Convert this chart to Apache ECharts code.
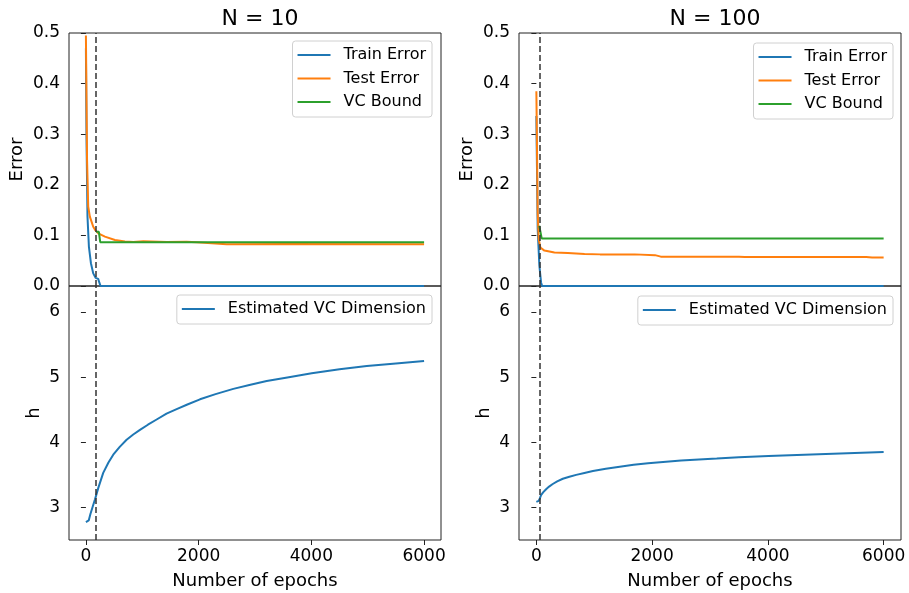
<!DOCTYPE html>
<html>
<head>
<meta charset="utf-8">
<script src="https://cdn.jsdelivr.net/npm/echarts@6/dist/echarts.min.js"></script>
<style>html,body{margin:0;padding:0;background:#fff}#c{width:909px;height:593px}</style>
</head>
<body>
<div id="c"></div>
<script>
// ---- data ----
const titles = ['N = 10', 'N = 100'];
const stopEpochs = [180, 50];
const xTicks = [0, 2000, 4000, 6000];
const hTicks = [3, 4, 5, 6];

const trainX10 = [0, 10, 28, 53, 89, 130, 172, 218, 240, 260, 6000];
const trainY10 = [0.47, 0.3, 0.137, 0.078, 0.045, 0.025, 0.016, 0.014, 0.006, 0, 0];
const testX10 = [0, 20, 41, 70, 130, 170, 220, 337, 515, 692, 840, 1018, 1432, 1787, 1965, 2497, 3600, 6000];
const testY10 = [0.495, 0.25, 0.157, 0.137, 0.117, 0.11, 0.104, 0.0975, 0.091, 0.088, 0.087, 0.0885, 0.087, 0.0875, 0.0865, 0.0825, 0.083, 0.0825];
const vcX10 = [180, 230, 254, 6000];
const vcY10 = [0.107, 0.107, 0.0865, 0.0865];
const hX10 = [0, 23, 50, 80, 120, 160, 220, 307, 400, 485, 600, 722, 840, 959, 1100, 1255, 1430, 1610, 1800, 2024, 2300, 2615, 2900, 3207, 3600, 4006, 4500, 4983, 5500, 6000];
const hY10 = [2.775, 2.755, 2.8, 2.9, 3.01, 3.12, 3.3, 3.53, 3.69, 3.81, 3.93, 4.04, 4.12, 4.19, 4.27, 4.35, 4.44, 4.51, 4.58, 4.66, 4.74, 4.82, 4.88, 4.94, 5.0, 5.06, 5.12, 5.17, 5.21, 5.25];

const trainX100 = [0, 23, 52, 81, 100, 6000];
const trainY100 = [0.336, 0.112, 0.04, 0.007, 0, 0];
const testX100 = [0, 23, 40, 69, 139, 312, 543, 832, 1100, 1700, 2050, 2150, 3500, 3600, 5700, 5800, 6000];
const testY100 = [0.385, 0.145, 0.093, 0.076, 0.07, 0.066, 0.065, 0.063, 0.0625, 0.0625, 0.061, 0.058, 0.058, 0.0575, 0.0575, 0.0565, 0.0565];
const vcX100 = [50, 92, 6000];
const vcY100 = [0.119, 0.094, 0.094];
const hX100 = [0, 40, 60, 81, 120, 168, 220, 283, 360, 457, 570, 688, 830, 977, 1200, 1440, 1680, 1930, 2500, 3116, 3500, 4011, 5000, 6000];
const hY100 = [3.086, 3.10, 3.14, 3.19, 3.235, 3.28, 3.32, 3.36, 3.40, 3.44, 3.47, 3.50, 3.53, 3.56, 3.595, 3.625, 3.655, 3.68, 3.72, 3.75, 3.77, 3.79, 3.82, 3.85];

// ---- chart ----
const FONT = 'DejaVu Sans';
const BLUE = '#1f77b4', ORANGE = '#ff7f0e', GREEN = '#2ca02c';
const zip = (xs, ys) => xs.map((x, i) => [x, ys[i]]);

const grids = [
  {left: 69, top: 33, width: 372, height: 253},
  {left: 69, top: 286, width: 372, height: 254},
  {left: 519, top: 33, width: 382, height: 253},
  {left: 519, top: 286, width: 382, height: 254}
].map(g => Object.assign(g, {show: true, borderColor: '#222', borderWidth: 1, backgroundColor: 'transparent'}));

function xAxis(gi, bottom) {
  return {
    type: 'value', gridIndex: gi, min: -300, max: 6300,
    splitLine: {show: false},
    axisLine: {show: false},
    axisTick: {show: bottom, customValues: xTicks, length: 5, lineStyle: {color: '#222'}},
    axisLabel: {show: bottom, customValues: xTicks, margin: 8, color: '#000', fontFamily: FONT, fontSize: 17, formatter: v => String(v)},
    name: bottom ? 'Number of epochs' : '', nameLocation: 'middle', nameGap: 32,
    nameTextStyle: {color: '#000', fontFamily: FONT, fontSize: 18}
  };
}
function yAxisTop(gi) {
  return {
    type: 'value', gridIndex: gi, min: 0, max: 0.5, interval: 0.1,
    splitLine: {show: false}, axisLine: {show: false},
    axisTick: {show: true, length: 5, lineStyle: {color: '#222'}},
    axisLabel: {margin: 9, color: '#000', fontFamily: FONT, fontSize: 17, formatter: v => v.toFixed(1)},
    name: 'Error', nameLocation: 'middle', nameGap: 43,
    nameTextStyle: {color: '#000', fontFamily: FONT, fontSize: 18}
  };
}
function yAxisBottom(gi) {
  return {
    type: 'value', gridIndex: gi, min: 2.5, max: 6.4,
    splitLine: {show: false}, axisLine: {show: false},
    axisTick: {show: true, customValues: hTicks, length: 5, lineStyle: {color: '#222'}},
    axisLabel: {customValues: hTicks, margin: 9, color: '#000', fontFamily: FONT, fontSize: 17, formatter: v => String(v)},
    name: 'h', nameLocation: 'middle', nameGap: 26,
    nameTextStyle: {color: '#000', fontFamily: FONT, fontSize: 18}
  };
}
function stopLine(ep) {
  return {
    silent: true, symbol: ['none', 'none'], label: {show: false},
    lineStyle: {color: '#333', type: [6, 3], width: 1.5},
    emphasis: {disabled: true},
    data: [{xAxis: ep}]
  };
}
function line(name, gi, data, color, extra) {
  return Object.assign({
    type: 'line', name, xAxisIndex: gi, yAxisIndex: gi, data,
    symbol: 'none', lineStyle: {color, width: 2}, itemStyle: {color},
    z: 3
  }, extra || {});
}

const legendText = {color: '#000', fontFamily: FONT, fontSize: 16, padding: [0, 0, 0, 8]};
function legend(names, right, top) {
  return {
    data: names.map(n => ({name: n, icon: 'rect'})), orient: 'vertical', right, top,
    itemWidth: 33, itemHeight: 2, itemGap: 7.5,
    padding: [6, 6, 7, 5],
    backgroundColor: '#fff', borderColor: '#d0d0d0', borderWidth: 1, borderRadius: 3,
    textStyle: legendText, selectedMode: false
  };
}

const option = {
  animation: false,
  backgroundColor: '#fff',
  title: [
    {text: titles[0], left: 255, top: 3, textAlign: 'center', textStyle: {fontFamily: FONT, fontSize: 22, fontWeight: 'normal', color: '#000'}},
    {text: titles[1], left: 710, top: 3, textAlign: 'center', textStyle: {fontFamily: FONT, fontSize: 22, fontWeight: 'normal', color: '#000'}}
  ],
  grid: grids,
  xAxis: [xAxis(0, false), xAxis(1, true), xAxis(2, false), xAxis(3, true)],
  yAxis: [yAxisTop(0), yAxisBottom(1), yAxisTop(2), yAxisBottom(3)],
  legend: [
    legend(['Train Error', 'Test Error', 'VC Bound'], 477, 41),
    legend(['Estimated VC Dimension'], 477, 295),
    legend(['Train Error', 'Test Error', 'VC Bound'], 16, 43),
    legend(['Estimated VC Dimension'], 16, 296)
  ],
  series: [
    line('Train Error', 0, zip(trainX10, trainY10), BLUE, {markLine: stopLine(stopEpochs[0])}),
    line('Test Error', 0, zip(testX10, testY10), ORANGE),
    line('VC Bound', 0, zip(vcX10, vcY10), GREEN),
    line('Estimated VC Dimension', 1, zip(hX10, hY10), BLUE, {markLine: stopLine(stopEpochs[0])}),
    line('Train Error', 2, zip(trainX100, trainY100), BLUE, {markLine: stopLine(stopEpochs[1])}),
    line('Test Error', 2, zip(testX100, testY100), ORANGE),
    line('VC Bound', 2, zip(vcX100, vcY100), GREEN),
    line('Estimated VC Dimension', 3, zip(hX100, hY100), BLUE, {markLine: stopLine(stopEpochs[1])})
  ]
};
const chart = echarts.init(document.getElementById('c'), null, {renderer: 'canvas'});
chart.setOption(option);
</script>
</body>
</html>
